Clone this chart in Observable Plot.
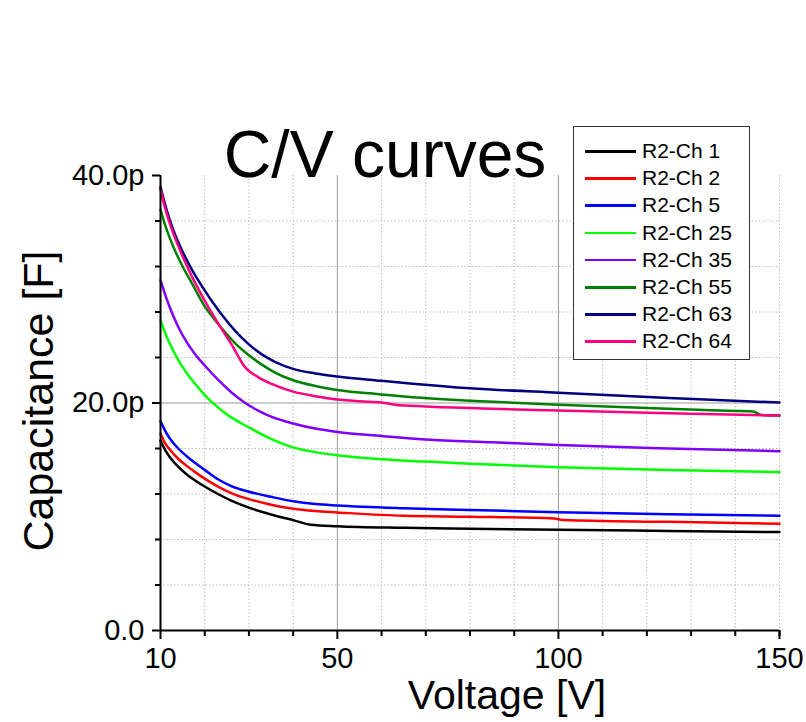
<!DOCTYPE html>
<html><head><meta charset="utf-8">
<script src="https://cdn.jsdelivr.net/npm/d3@7"></script>
<script src="https://cdn.jsdelivr.net/npm/@observablehq/plot@0.6"></script>
<style>
body{margin:0;background:#fff;font-family:"Liberation Sans",Arial,sans-serif;color:#000}
#wrap{position:relative;width:806px;height:722px;overflow:hidden}
#chart{position:absolute;left:0;top:0}
#chart svg text{font-size:29px !important}
.t{position:absolute;white-space:nowrap;color:#000}
#title{left:385px;top:121px;transform:translateX(-50%);font-size:66px;line-height:66px}
#xlab{left:507px;top:683px;transform:translateX(-50%);font-size:41px;line-height:24px}
#ylab{left:-162px;top:379px;width:400px;text-align:center;transform:rotate(-90deg);font-size:43px;line-height:44px}
#legend{position:absolute;left:573px;top:126px;width:175px;height:232px;background:#fff;border:1.5px solid #333}
.row{position:absolute;left:0;height:24px;width:175px}
.sw{position:absolute;left:11px;top:11px;width:51px;height:2.5px}
.lt{position:absolute;left:68px;top:0;font-size:21px;line-height:24px;white-space:nowrap}
</style>
</head><body>
<div id="wrap">
<div id="chart"></div>
<div class="t" id="title">C/V curves</div>
<div class="t" id="xlab">Voltage [V]</div>
<div class="t" id="ylab">Capacitance [F]</div>
<div id="legend"></div>
</div>
<script>
// Series names and colours
const seriesNames = ["R2-Ch 1","R2-Ch 2","R2-Ch 5","R2-Ch 25","R2-Ch 35","R2-Ch 55","R2-Ch 63","R2-Ch 64"];
const seriesColors = ["#000000","#ff0000","#0000ff","#00ff00","#8000ff","#008000","#000080","#ff0080"];

// Capacitance (pF) vs voltage (V)
const ch1 = [[10,16.7],[11,15.9],[12,15.3],[14,14.4],[16,13.7],[18,13.15],[20,12.66],[23,12.0],[26,11.42],[30,10.8],[35,10.2],[40,9.7],[44,9.3],[50,9.17],[65,9.03],[80,8.95],[100,8.85],[125,8.75],[150,8.65]];
const ch2 = [[10,17.3],[11,16.5],[12,15.95],[14,15.1],[16,14.45],[18,13.88],[20,13.35],[23,12.65],[26,12.08],[30,11.55],[35,11.06],[40,10.7],[45,10.5],[50,10.38],[65,10.08],[80,10.0],[99,9.85],[101,9.72],[125,9.55],[150,9.38]];
const ch5 = [[10,18.4],[11,17.6],[12,16.95],[14,16.0],[16,15.3],[18,14.68],[20,14.12],[23,13.3],[26,12.7],[30,12.2],[35,11.75],[40,11.36],[45,11.12],[50,10.99],[65,10.75],[80,10.6],[100,10.4],[125,10.22],[150,10.08]];
const ch25 = [[10,27.3],[11,26.2],[12,25.3],[14,23.8],[16,22.6],[18,21.6],[20,20.7],[22,19.95],[25,19.0],[30,17.85],[35,16.85],[40,16.1],[45,15.68],[50,15.4],[60,15.05],[70,14.85],[80,14.65],[100,14.36],[125,14.1],[150,13.92]];
const ch35 = [[10,30.8],[11,29.6],[12,28.5],[14,26.7],[16,25.3],[18,24.2],[20,23.3],[23,22.05],[26,20.95],[29,20.05],[32,19.35],[35,18.8],[40,18.2],[45,17.75],[50,17.45],[60,17.1],[70,16.8],[85,16.55],[100,16.3],[125,16.0],[150,15.76]];
const ch55 = [[10,37.0],[11,35.7],[12,34.6],[13,33.65],[15,32.0],[17,30.6],[20,28.5],[22,27.45],[24,26.5],[27,25.2],[30,24.2],[33,23.35],[36,22.65],[40,22.0],[45,21.5],[50,21.15],[60,20.75],[67,20.5],[80,20.2],[100,19.84],[120,19.55],[140,19.3],[144,19.25],[146,18.95],[150,18.9]];
const ch63 = [[10,39.0],[11,37.5],[12,36.2],[13,35.1],[15,33.3],[17,31.8],[20,29.9],[22,28.75],[24,27.7],[27,26.3],[30,25.15],[33,24.25],[36,23.6],[40,23.0],[45,22.6],[50,22.33],[60,21.95],[67,21.7],[80,21.3],[100,20.9],[125,20.45],[150,20.04]];
const ch64 = [[10,38.8],[11,37.2],[12,35.9],[13,34.8],[15,32.9],[17,31.2],[20,29.0],[22,27.65],[24,26.4],[26,25.2],[27.3,24.3],[29,23.2],[32,22.3],[35,21.7],[40,21.0],[45,20.6],[50,20.3],[55,20.15],[60,20.05],[63,19.85],[70,19.7],[85,19.5],[100,19.34],[125,19.1],[150,18.9]];
const seriesValues = [ch1,ch2,ch5,ch25,ch35,ch55,ch63,ch64];

// Axis ticks
const xMajorTicks = [10,50,100,150];
const xMinorTicks = [20,30,40,60,70,80,90,110,120,130,140,150];
const xSolidGrid = [50,100];
const yMajorTicks = [0,20,40];
const yMinorTicks = [4,8,12,16,24,28,32,36];
const ySolidGrid = [20];
const yTickLabels = ["0.0","20.0p","40.0p"];

const rows = [];
seriesNames.forEach((name,i)=>seriesValues[i].forEach(([v,c])=>rows.push({series:name,v,c})));

const plot = Plot.plot({
  width: 806, height: 722,
  marginLeft: 160, marginRight: 27, marginTop: 175, marginBottom: 92,
  style: {fontFamily: '"Liberation Sans", Arial, sans-serif', fontSize: "29px", color: "#000", background: "#fff"},
  x: {domain: [10,150]},
  y: {domain: [0,40]},
  color: {domain: seriesNames, range: seriesColors},
  marks: [
    Plot.ruleX(xMinorTicks.filter(d=>!xSolidGrid.includes(d)), {stroke: "#bdbdbd", strokeDasharray: "1.5,2", strokeWidth: 1}),
    Plot.ruleY(yMinorTicks, {stroke: "#bdbdbd", strokeDasharray: "1.5,2", strokeWidth: 1}),
    Plot.ruleX(xSolidGrid, {stroke: "#9a9a9a", strokeWidth: 1}),
    Plot.ruleY(ySolidGrid, {stroke: "#9a9a9a", strokeWidth: 1}),
    Plot.line(rows, {x: "v", y: "c", z: "series", stroke: "series", strokeWidth: 2.5, curve: "monotone-x"}),
    Plot.axisX(xMinorTicks, {tickSize: 6, text: null, strokeWidth: 2, label: null}),
    Plot.axisX(xMajorTicks, {tickSize: 9, tickPadding: 8, strokeWidth: 2, label: null, tickFormat: d => String(d)}),
    Plot.axisY(yMinorTicks, {tickSize: 5, text: null, strokeWidth: 2, label: null}),
    Plot.axisY(yMajorTicks, {tickSize: 8, tickPadding: 8, strokeWidth: 2, label: null, tickFormat: d => yTickLabels[yMajorTicks.indexOf(d)]}),
    Plot.ruleY([0], {stroke: "#000", strokeWidth: 2}),
    Plot.ruleX([10], {stroke: "#000", strokeWidth: 2})
  ]
});
document.getElementById("chart").appendChild(plot);

const legend = document.getElementById("legend");
seriesNames.forEach((name,i)=>{
  const r = document.createElement("div");
  r.className = "row";
  r.style.top = (12 + i*27.2) + "px";
  const sw = document.createElement("div");
  sw.className = "sw"; sw.style.background = seriesColors[i];
  const t = document.createElement("div");
  t.className = "lt"; t.textContent = name;
  r.appendChild(sw); r.appendChild(t);
  legend.appendChild(r);
});
</script>
</body></html>
